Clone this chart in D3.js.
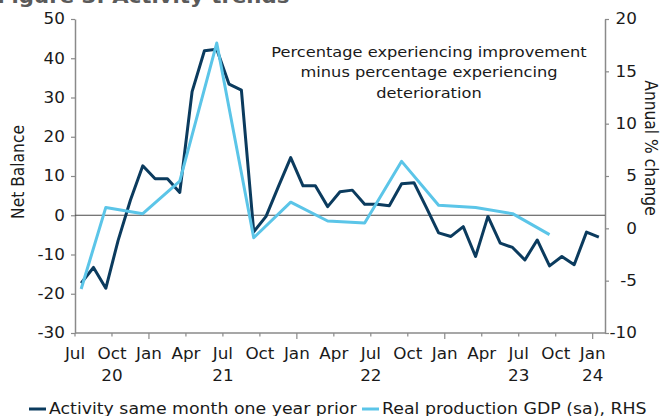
<!DOCTYPE html>
<html>
<head>
<meta charset="utf-8">
<script src="https://cdn.jsdelivr.net/npm/d3@7"></script>
<style>
  body { margin: 0; background: #fff; }
  svg { display: block; font-family: "DejaVu Sans", Verdana, sans-serif; }
</style>
</head>
<body>
<div id="chart"></div>
<script>
// monthly categories, Jul 2020 .. Jan 2024
const months = d3.timeMonth.range(new Date(2020, 6, 1), new Date(2024, 1, 1));

// net balance, activity same month one year prior (left axis)
const activity = [
    -17.3, -13.3, -18.6, -6.4, 3.9, 12.6,
    9.3, 9.3, 5.8, 31.5, 41.9, 42.3, 33.4, 31.9, -4.2, -0.3, 7.3, 14.7,
    7.5, 7.5, 2.2, 6.0, 6.4, 2.8, 2.8, 2.4, 8.0, 8.3, 2.0, -4.5,
    -5.4, -2.9, -10.5, -0.3, -7.1, -8.2, -11.4, -6.3, -12.9, -10.5, -12.6, -4.3,
    -5.6
];

// real production gdp, annual % change (right axis), quarterly
const gdpMonths = ["2020-07", "2020-09", "2020-12", "2021-03", "2021-06", "2021-09", "2021-12",
    "2022-03", "2022-06", "2022-09", "2022-12", "2023-03", "2023-06", "2023-09"];
const gdpValues = [-5.8, 2.0, 1.4, 4.5, 17.7, -0.9, 2.5, 0.7, 0.5, 6.4, 2.2, 2.0, 1.4, -0.6];

// axis ticks and labels
const leftTicks = [50, 40, 30, 20, 10, 0, -10, -20, -30];
const rightTicks = [20, 15, 10, 5, 0, -5, -10];
const yearLabels = [["20", "2020-10"], ["21", "2021-07"], ["22", "2022-07"], ["23", "2023-07"], ["24", "2024-01"]];
const annotation = ["Percentage experiencing improvement", "minus percentage experiencing", "deterioration"];
const seriesNames = ["Activity same month one year prior", "Real production GDP (sa), RHS"];
const title = "Figure 3: Activity trends";

const colors = { dark: "#0b3b5e", light: "#5bc5e8", axis: "#8a8a8a", zero: "#4a4a4a", text: "#1a1a1a" };
const SX = 1.12; // glyphs in the reference are a little wide

const width = 669, height = 416;
const margin = { left: 75, right: 64, top: 19, bottom: 83 };

const key = d3.timeFormat("%Y-%m");

// scales
const x = d3.scaleBand()
    .domain(months.map(key))
    .range([margin.left, width - margin.right]);
const yL = d3.scaleLinear().domain([-30, 50]).range([height - margin.bottom, margin.top]);
const yR = d3.scaleLinear().domain([-10, 20]).range([height - margin.bottom, margin.top]);
const cx = k => x(k) + x.bandwidth() / 2;

const svg = d3.select("#chart").append("svg")
    .attr("width", width)
    .attr("height", height);

// place text with a slight horizontal stretch
function place(sel, px, py, extra = "") {
    return sel.attr("transform", `translate(${px},${py}) scale(${SX},1)${extra}`);
}

// cut-off title at the very top
place(svg.append("text"), -3, 2.5)
    .attr("font-size", 19)
    .attr("font-weight", "bold")
    .attr("fill", "#5a5a5a")
    .text(title);

// left axis
const gL = svg.append("g")
    .attr("transform", `translate(${margin.left},0)`)
    .call(d3.axisLeft(yL).tickValues(leftTicks).tickFormat(d => String(d))
        .tickSize(4).tickSizeOuter(0).tickPadding(5));

// right axis
const gR = svg.append("g")
    .attr("transform", `translate(${width - margin.right},0)`)
    .call(d3.axisRight(yR).tickValues(rightTicks).tickFormat(d => String(d))
        .tickSize(4).tickSizeOuter(0).tickPadding(5));

[gL, gR].forEach(g => {
    g.select(".domain").attr("stroke", colors.axis).attr("stroke-width", 1.5);
    g.selectAll(".tick line").attr("stroke", colors.axis).attr("stroke-width", 1.2);
    g.selectAll(".tick text")
        .attr("font-size", 15)
        .attr("font-family", "DejaVu Sans, Verdana, sans-serif")
        .attr("fill", colors.text)
        .attr("transform", `scale(${SX},1)`);
});
gR.selectAll(".tick text").attr("text-anchor", "end").attr("x", 28.5);

// bottom axis, drawn by hand on the band scale
const yBottom = height - margin.bottom;
svg.append("line")
    .attr("x1", margin.left).attr("x2", width - margin.right)
    .attr("y1", yBottom).attr("y2", yBottom)
    .attr("stroke", colors.axis).attr("stroke-width", 1.5);

const quarters = months.filter(m => m.getMonth() % 3 === 0);
svg.selectAll("line.xtick")
    .data(quarters)
    .enter().append("line")
    .attr("class", "xtick")
    .attr("x1", d => x(key(d))).attr("x2", d => x(key(d)))
    .attr("y1", yBottom)
    .attr("y2", d => yBottom + (d.getMonth() === 0 ? 6 : 3.5))
    .attr("stroke", colors.axis).attr("stroke-width", 1.2);

svg.selectAll("text.month")
    .data(quarters)
    .enter().append("text")
    .attr("class", "month")
    .each(function (d) { place(d3.select(this), x(key(d)), 359); })
    .attr("text-anchor", "middle")
    .attr("font-size", 15)
    .attr("fill", colors.text)
    .text(d3.timeFormat("%b"));

svg.selectAll("text.year")
    .data(yearLabels)
    .enter().append("text")
    .attr("class", "year")
    .each(function (d) { place(d3.select(this), x(d[1]), 381); })
    .attr("text-anchor", "middle")
    .attr("font-size", 15)
    .attr("fill", colors.text)
    .text(d => d[0]);

// axis titles
place(svg.append("text"), 18, 172, " rotate(-90)")
    .attr("text-anchor", "middle")
    .attr("dy", "0.35em")
    .attr("font-size", 15.5)
    .attr("fill", colors.text)
    .text("Net Balance");

place(svg.append("text"), 651, 148, " rotate(90)")
    .attr("text-anchor", "middle")
    .attr("dy", "0.35em")
    .attr("font-size", 15.5)
    .attr("fill", colors.text)
    .text("Annual % change");

// zero line
svg.append("line")
    .attr("x1", margin.left).attr("x2", width - margin.right)
    .attr("y1", yL(0)).attr("y2", yL(0))
    .attr("stroke", colors.zero).attr("stroke-width", 1.2);

// series
const activityData = months.map((m, i) => ({ k: key(m), v: activity[i] }));
const gdpData = gdpMonths.map((k, i) => ({ k, v: gdpValues[i] }));

svg.append("path")
    .datum(activityData)
    .attr("fill", "none")
    .attr("stroke", colors.dark)
    .attr("stroke-width", 3)
    .attr("stroke-linejoin", "round")
    .attr("d", d3.line().x(d => cx(d.k)).y(d => yL(d.v)));

svg.append("path")
    .datum(gdpData)
    .attr("fill", "none")
    .attr("stroke", colors.light)
    .attr("stroke-width", 3)
    .attr("stroke-linejoin", "round")
    .attr("d", d3.line().x(d => cx(d.k)).y(d => yR(d.v)));

// annotation
const note = place(svg.append("text"), 429, 57)
    .attr("text-anchor", "middle")
    .attr("font-size", 14.5)
    .attr("fill", colors.text);
note.selectAll("tspan")
    .data(annotation)
    .enter().append("tspan")
    .attr("x", 0)
    .attr("y", (d, i) => i * 20.5)
    .text(d => d);

// legend
const legend = [
    { name: seriesNames[0], color: colors.dark, x: 29 },
    { name: seriesNames[1], color: colors.light, x: 362 }
];
legend.forEach(l => {
    svg.append("line")
        .attr("x1", l.x).attr("x2", l.x + 17)
        .attr("y1", 409).attr("y2", 409)
        .attr("stroke", l.color).attr("stroke-width", 3);
    place(svg.append("text"), l.x + 20, 414)
        .attr("font-size", 15.5)
        .attr("fill", colors.text)
        .text(l.name);
});
</script>
</body>
</html>
